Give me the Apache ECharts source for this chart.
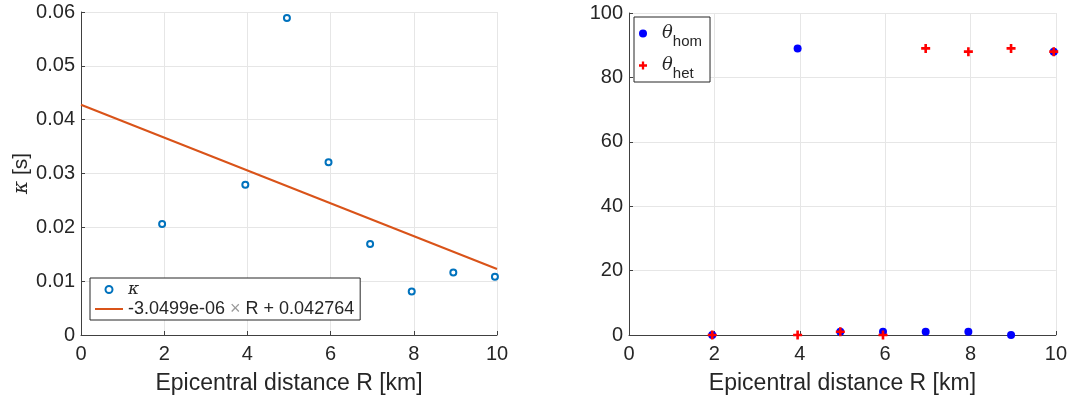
<!DOCTYPE html>
<html><head><meta charset="utf-8">
<script src="https://cdn.jsdelivr.net/npm/echarts@6/dist/echarts.min.js"></script>
<style>html,body{margin:0;padding:0;background:#fff}#c{width:1070px;height:400px}</style>
</head><body><div id="c"></div>
<script>
// ---- data ----
const distR = [1.95, 3.95, 4.95, 5.95, 6.95, 7.95, 8.95, 9.95];
const kappa = [0.0206, 0.0279, 0.0589, 0.0321, 0.0169, 0.0081, 0.0116, 0.0108];
const fitR = [0, 10];
const fitKappa = [0.042764, 0.012265];
const thetaHom = [0, 89, 1, 1, 1, 1, 0, 88];
const thetaHet = [0, 0, 1, 0, 89, 88, 89, 88];
const xTicks = [0, 2, 4, 6, 8, 10];
const kappaTicks = [0, 0.01, 0.02, 0.03, 0.04, 0.05, 0.06];
const thetaTicks = [0, 20, 40, 60, 80, 100];
const xTitle = 'Epicentral distance R [km]';
const fitLabel = ['-3.0499e-06 ', '×', ' R + 0.042764'];

// ---- chart ----
const FONT = '"Liberation Sans", Arial, Helvetica, sans-serif';
const SERIF = '"DejaVu Serif", "Liberation Serif", serif';
const DARK = '#262626';
const GRIDC = '#e6e6e6';
const zip = (a, b) => a.map((v, i) => [v, b[i]]);
const step = t => t[1] - t[0];

function xAx(gi) {
  return {
    gridIndex: gi, type: 'value', min: xTicks[0], max: xTicks[xTicks.length - 1], interval: step(xTicks),
    name: xTitle, nameLocation: 'middle', nameGap: 37,
    nameTextStyle: { fontFamily: FONT, fontSize: 23, color: DARK },
    axisLine: { show: true, onZero: false, lineStyle: { color: '#404040', width: 1 } },
    axisTick: { show: true, inside: true, length: 4, lineStyle: { color: '#404040' } },
    axisLabel: { fontFamily: FONT, fontSize: 20, color: DARK, margin: 9 },
    splitLine: { show: true, lineStyle: { color: GRIDC, width: 1 } }
  };
}
function yAx(gi, ticks, fmt, extra) {
  return Object.assign({
    gridIndex: gi, type: 'value', min: ticks[0], max: ticks[ticks.length - 1], interval: step(ticks),
    axisLine: { show: true, onZero: false, lineStyle: { color: '#404040', width: 1 } },
    axisTick: { show: true, inside: true, length: 4, lineStyle: { color: '#404040' } },
    axisLabel: { fontFamily: FONT, fontSize: 20, color: DARK, margin: 6, formatter: fmt },
    splitLine: { show: true, lineStyle: { color: GRIDC, width: 1 } }
  }, extra || {});
}

const plusPath = 'path://M3.2,0H5.8V3.2H9V5.8H5.8V9H3.2V5.8H0V3.2H3.2Z';

const option = {
  animation: false,
  backgroundColor: '#fff',
  grid: [
    { left: 81, top: 12, width: 416, height: 323 },
    { left: 629, top: 13, width: 428, height: 322 }
  ],
  xAxis: [xAx(0), xAx(1)],
  yAxis: [
    yAx(0, kappaTicks, v => v === 0 ? '0' : v.toFixed(2), {
      name: '{k|κ} [s]', nameLocation: 'middle', nameGap: 42, nameRotate: 90,
      nameTextStyle: { fontFamily: FONT, fontSize: 21, color: DARK,
        rich: { k: { fontFamily: SERIF, fontStyle: 'italic', fontSize: 20, color: DARK } } }
    }),
    yAx(1, thetaTicks, v => String(v))
  ],
  legend: [
    {
      left: 90, top: 278, orient: 'vertical', selectedMode: false,
      data: ['kappa', { name: 'fit', itemStyle: { opacity: 0 } }],
      itemWidth: 28, itemHeight: 7, itemGap: 2, itemTextGap: 3,
      padding: [3, 6, 2, 4],
      borderColor: DARK, borderWidth: 1, borderRadius: 0, backgroundColor: '#fff',
      formatter: n => n === 'kappa' ? '{k|κ}' : '{a|' + fitLabel[0] + '}{x|' + fitLabel[1] + '}{a|' + fitLabel[2] + '}',
      textStyle: {
        fontFamily: FONT, fontSize: 18, color: DARK,
        rich: {
          k: { fontFamily: SERIF, fontStyle: 'italic', fontSize: 17, lineHeight: 20, color: DARK },
          a: { fontFamily: FONT, fontSize: 18, lineHeight: 20, color: DARK },
          x: { fontFamily: FONT, fontSize: 18, lineHeight: 20, color: '#9a9a9a' }
        }
      }
    },
    {
      left: 634, top: 17, orient: 'vertical', selectedMode: false,
      data: ['hom', 'het'],
      itemWidth: 28, itemHeight: 8, itemGap: 1, itemTextGap: 4,
      padding: [1, 8, 1, 5],
      borderColor: DARK, borderWidth: 1, borderRadius: 0, backgroundColor: '#fff',
      formatter: n => '{t|θ}{s|' + n + '}',
      textStyle: {
        fontFamily: FONT, fontSize: 18, color: DARK,
        rich: {
          t: { fontFamily: SERIF, fontStyle: 'italic', fontSize: 18, lineHeight: 22, color: DARK },
          s: { fontFamily: FONT, fontSize: 15, lineHeight: 14, padding: [16, 0, 0, 0], color: DARK }
        }
      }
    }
  ],
  series: [
    { name: 'kappa', type: 'scatter', xAxisIndex: 0, yAxisIndex: 0, data: zip(distR, kappa),
      symbol: 'emptyCircle', symbolSize: 6, itemStyle: { color: '#0072BD', borderWidth: 1.6, opacity: 1 }, z: 3 },
    { name: 'fit', type: 'line', xAxisIndex: 0, yAxisIndex: 0, data: zip(fitR, fitKappa),
      symbol: 'none', lineStyle: { color: '#D95319', width: 2 }, itemStyle: { color: '#D95319' }, z: 4 },
    { name: 'hom', type: 'scatter', xAxisIndex: 1, yAxisIndex: 1, data: zip(distR, thetaHom),
      symbol: 'circle', symbolSize: 8, itemStyle: { color: '#0000FF', opacity: 1 }, clip: false, z: 3 },
    { name: 'het', type: 'scatter', xAxisIndex: 1, yAxisIndex: 1, data: zip(distR, thetaHet),
      symbol: plusPath, symbolSize: 9, itemStyle: { color: '#FF0000', opacity: 1 }, clip: false, z: 4 }
  ]
};
const chart = echarts.init(document.getElementById('c'));
chart.setOption(option);
</script>
</body></html>
